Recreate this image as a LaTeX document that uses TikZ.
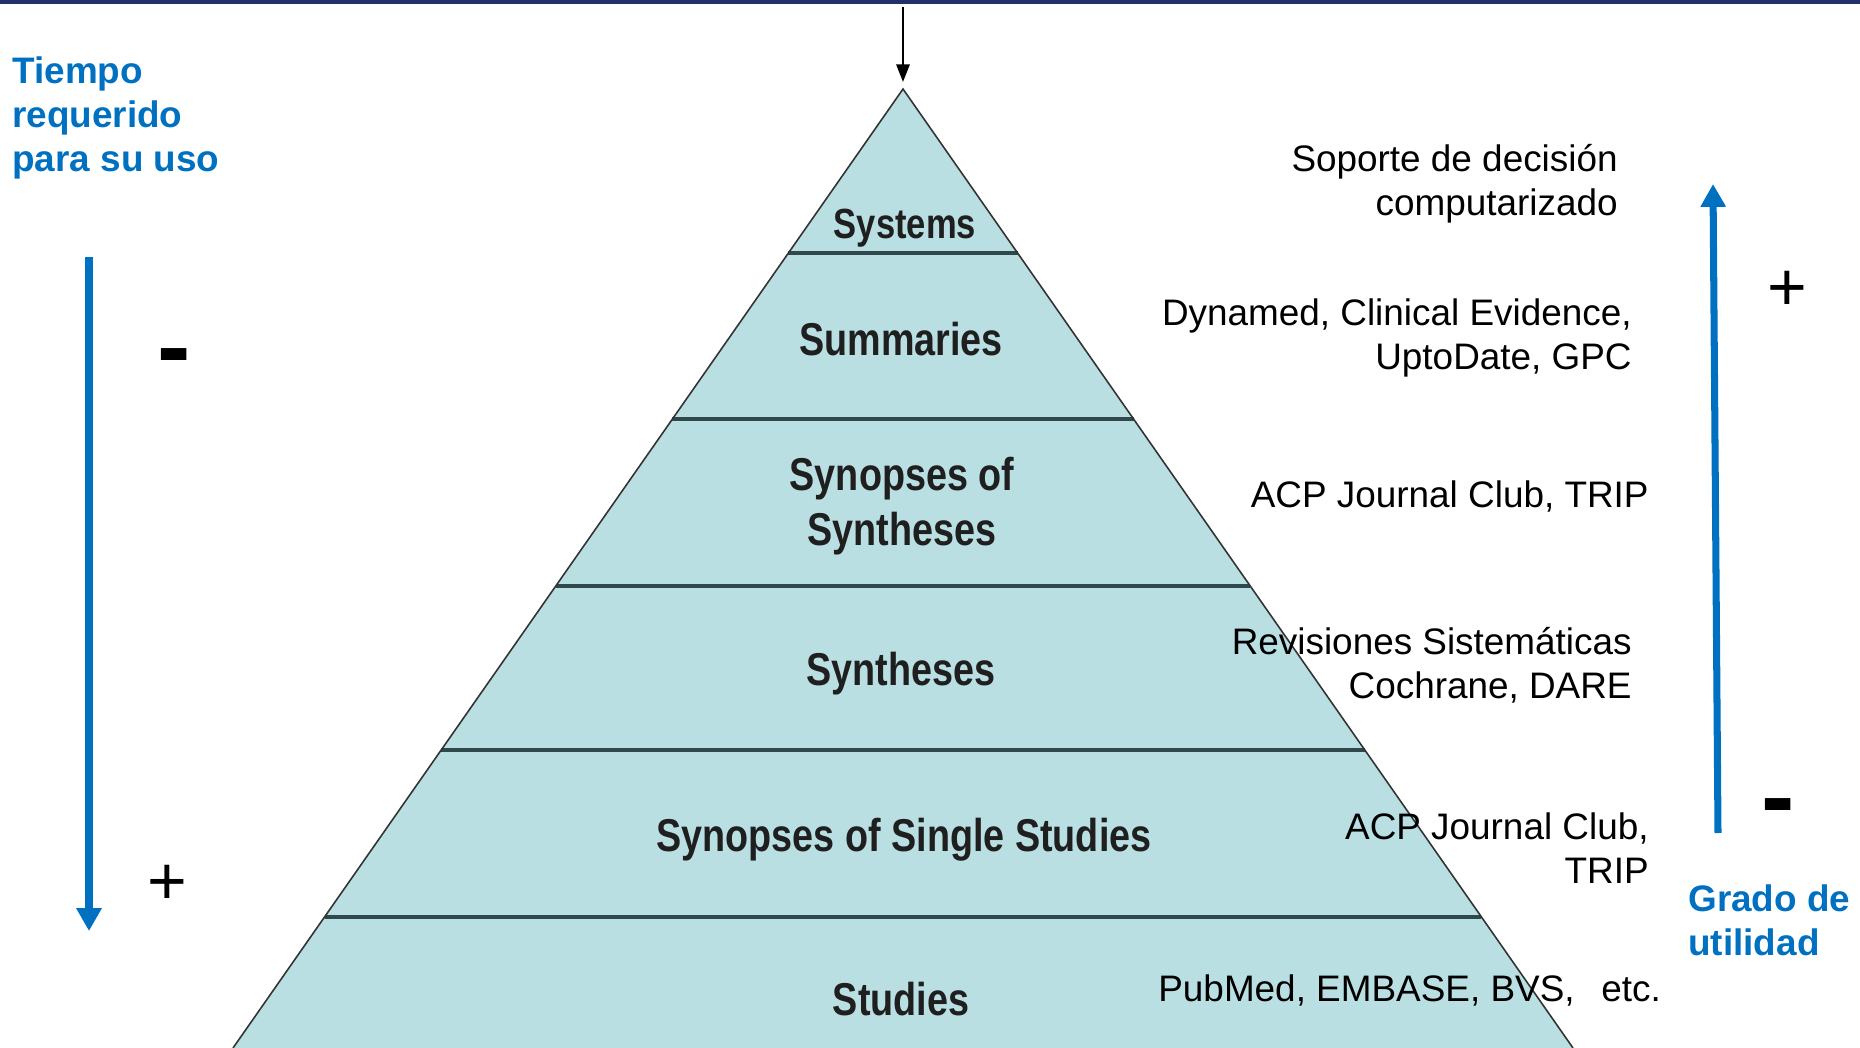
\documentclass[tikz,border=0pt]{standalone}
\usepackage{fontspec}
\setmainfont{Liberation Sans}
\newfontfamily\narrowfont[FakeStretch=0.82]{Liberation Sans}
\usetikzlibrary{arrows.meta,calc}

\definecolor{TopBar}{RGB}{35,48,105}
\definecolor{LevelFill}{RGB}{186,223,227}
\definecolor{LevelLine}{RGB}{46,72,76}
\definecolor{AxisBlue}{RGB}{0,112,192}

\tikzset{
  level/.style={font=\narrowfont\bfseries\fontsize{26.2}{31.3}\selectfont,text=black!88,inner sep=0pt,align=center},
  source/.style={font=\fontsize{21}{25}\selectfont,inner sep=0pt,align=right,anchor=east},
  axislabel/.style={font=\bfseries\fontsize{21}{25}\selectfont,text=AxisBlue,inner sep=0pt,align=left,anchor=west},
  axis/.style={draw=AxisBlue,line width=4pt,-{Triangle[width=13.7pt,length=13pt]}},
  sign/.style={inner sep=0pt,anchor=base,font=\fontsize{38.7}{40}\selectfont},
  minus/.style={sign,font=\bfseries\fontsize{57}{60}\selectfont},
}

\begin{document}
\begin{tikzpicture}[x=0.02cm,y=-0.02cm]
  \useasboundingbox (0,0) rectangle (1860,1048);
  \clip (0,0) rectangle (1860,1048);
  \fill[TopBar] (0,0) rectangle (1860,4);

  % pyramid, cut by the lower edge
  \coordinate (apex) at (903,89);
  \coordinate (baseL) at (233,1048);
  \coordinate (baseR) at (1573,1048);
  \fill[LevelFill] (apex) -- (baseR) -- (baseL) -- cycle;
  \foreach \y in {253,419,586,750,917}
    \draw[LevelLine,line width=2.2pt] ($(apex)!{(\y-89)/959}!(baseL)$) -- ($(apex)!{(\y-89)/959}!(baseR)$);
  \draw[black!80,line width=0.9pt] (baseL) -- (apex) -- (baseR);

  \coordinate (feed) at (903,7);
  \draw[line width=1.4pt,-{Triangle[width=7.5pt,length=10pt]},shorten >=4pt] (feed) -- (apex);

  \node[level,font=\narrowfont\bfseries\fontsize{24}{29}\selectfont] (systems) at (905,228) {Systems};
  \node[level] (summaries) at (901,339) {Summaries};
  \node[level] (synsyn) at (902,506) {Synopses of\\Syntheses};
  \node[level] (syntheses) at (901,674) {Syntheses};
  \node[level] (synsingle) at (904,840) {Synopses of Single Studies};
  \node[level] (studies) at (901,999) {Studies};

  \node[source] (decision) at (1618,184) {Soporte de decisión\\computarizado};
  \node[source] (summarysrc) at (1632,338) {Dynamed, Clinical Evidence,\\UptoDate, GPC};
  \node[source] (synsynsrc) at (1649,496) {ACP Journal Club, TRIP};
  \node[source] (reviews) at (1632,665) {Revisiones Sistemáticas\\Cochrane, DARE};
  \node[source] (synsinglesrc) at (1649,848) {ACP Journal Club,\\TRIP};
  \node[source,anchor=west] (databases) at (1158,990) {PubMed, EMBASE, BVS,\ \ \,etc.};

  % time axis (left) and utility axis (right)
  \node[axislabel] (time) at (12,118) {Tiempo\\requerido\\para su uso};
  \coordinate (timeTop) at (89,257);
  \coordinate (timeEnd) at (89,931);
  \draw[axis] (timeTop) -- (timeEnd);
  \node[minus] (timeLess) at (174,380) {-};
  \node[sign] (timeMore) at (167,904) {+};

  \node[axislabel] (utility) at (1688,920) {Grado de\\utilidad};
  \coordinate (useLow) at (1718,833);
  \coordinate (useTop) at (1713,184);
  \draw[axis] (useLow) -- (useTop);
  \node[sign] (useMore) at (1787,310) {+};
  \node[minus] (useLess) at (1778,830) {-};
\end{tikzpicture}
\end{document}
